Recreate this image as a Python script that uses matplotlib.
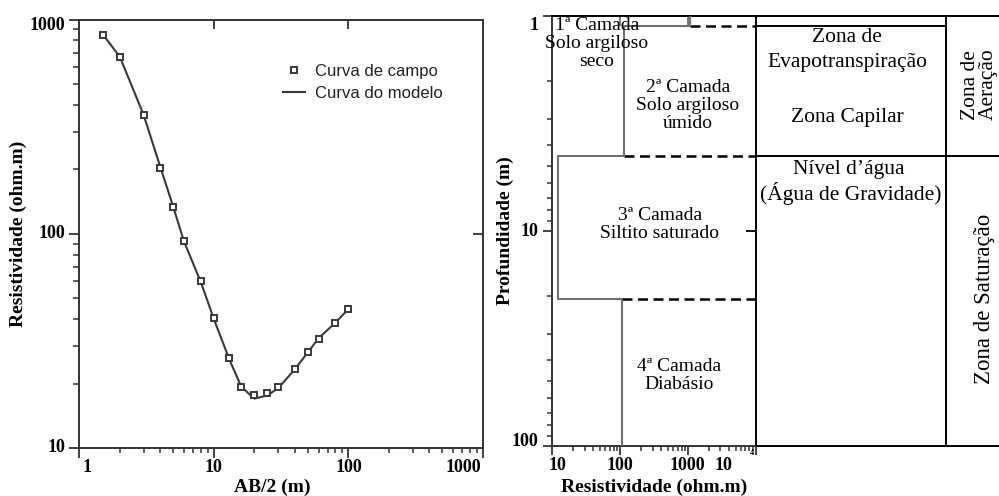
import matplotlib
matplotlib.use("Agg")
import matplotlib.pyplot as plt
from matplotlib.ticker import FixedLocator, LogLocator, NullFormatter

# Field sounding (AB/2 vs apparent resistivity) and fitted model curve
ab2_field = [1.5, 2, 3, 4, 5, 6, 8, 10, 13, 16, 20, 25, 30, 40, 50, 60, 80, 100]
rho_field = [850, 665, 357, 203, 133, 93, 60.5, 40.4, 26.2, 19.2, 17.6, 18.1,
             19.2, 23.3, 28.2, 32.3, 38.5, 44.5]
ab2_model = [1.5, 2, 3, 4, 5, 6, 8, 10, 13, 16, 20, 25, 30, 40, 50, 60, 80, 100]
rho_model = [850, 670, 360, 205, 133, 92, 59.5, 40, 26, 19.3, 17.0, 17.6,
             19.0, 23.3, 28.0, 32.5, 38.5, 44.5]
ab2_ticks = [1, 10, 100, 1000]
ab2_ticklabels = ["1", "10", "100", "1000"]
rho_ticks = [10, 100, 1000]
rho_ticklabels = ["10", "100", "1000"]

# Layered model (depth in m, resistivity in ohm.m)
layer_top = [1.0, 1.11, 4.47, 20.7]
layer_bottom = [1.11, 4.47, 20.7, 100]
layer_rho = [1060, 113, 12.1, 105]
layer_labels = ["1ª Camada\nSolo argiloso\nseco",
                "2ª Camada\nSolo argiloso\númido",
                "3ª Camada\nSiltito saturado",
                "4ª Camada\nDiabásio"]
depth_ticks = [1, 10, 100]
depth_ticklabels = ["1", "10", "100"]
res_ticks = [10, 100, 1000, 1e4]
res_ticklabels = ["10", "100", "1000", "10"]

SERIF = "Liberation Serif"
SANS = "Liberation Sans"
DARK = "#333333"
W, H = 999, 496
PT = 0.72  # points per pixel at dpi 100


def fx(px):
    return px / W


def fy(py):
    return 1 - py / H


def tick_text(ax, axis, vals, labels, offsets, base):
    """Draw tick labels as annotations so each can be nudged like the original."""
    for v, s, (dx, dy) in zip(vals, labels, offsets):
        if axis == "x":
            xy, xyc = (v, 0), ("data", "axes fraction")
            ox, oy, ha, va = dx, base + dy, "center", "center"
        else:
            xy, xyc = (0, v), ("axes fraction", "data")
            ox, oy, ha, va = base + dx, dy, "right", "center"
        ax.annotate(s, xy=xy, xycoords=xyc, xytext=(ox, oy), textcoords="offset pixels",
                    ha=ha, va=va, fontfamily=SERIF, fontweight="bold", fontsize=13,
                    annotation_clip=False)


fig = plt.figure(figsize=(9.99, 4.96), dpi=100)

# ---------------- left panel ----------------
ax = fig.add_axes([fx(79.3), fy(448), fx(483 - 79.3), (448 - 19.5) / H])
ax.set_xscale("log")
ax.set_yscale("log")
ax.set_xlim(1, 1000)
ax.set_ylim(10, 1000)

ax.plot(ab2_model, rho_model, color="#3a3a3a", lw=1.5, label="Curva do modelo", zorder=2)
ax.plot(ab2_field, rho_field, ls="none", marker="s", ms=5, mfc="white", mec="#3a3a3a",
        mew=1.4, label="Curva de campo", zorder=3)

for s in ax.spines.values():
    s.set_color(DARK)
    s.set_linewidth(1.4)

ax.set_xticks(ab2_ticks)
ax.set_yticks(rho_ticks)
ax.xaxis.set_major_formatter(NullFormatter())
ax.yaxis.set_major_formatter(NullFormatter())
ax.xaxis.set_minor_locator(LogLocator(base=10, subs=range(2, 10)))
ax.yaxis.set_minor_locator(LogLocator(base=10, subs=range(2, 10)))
ax.xaxis.set_minor_formatter(NullFormatter())
ax.yaxis.set_minor_formatter(NullFormatter())
ax.tick_params(which="major", direction="out", length=10 * PT, width=1.3, color=DARK,
               top=False, right=False)
ax.tick_params(axis="x", which="minor", direction="out", length=5 * PT, width=1.1,
               color=DARK, top=False)
ax.tick_params(axis="y", which="minor", direction="out", length=6 * PT, width=1.1,
               color=DARK, right=False)
tick_text(ax, "x", ab2_ticks, ab2_ticklabels, [(8, 0), (0, 0), (0, 0), (-20, 0)], -20)
tick_text(ax, "y", rho_ticks, rho_ticklabels, [(0, 0), (0, 0), (0, -6)], -14)

# inward ticks on top and right spines
top = ax.secondary_xaxis("top")
top.set_xticks([10, 100])
top.set_xticklabels([])
top.tick_params(direction="in", length=10 * PT, width=1.3, color=DARK)
top.xaxis.set_minor_locator(FixedLocator([]))
top.spines["top"].set_visible(False)
right = ax.secondary_yaxis("right")
right.set_yticks([100])
right.set_yticklabels([])
right.tick_params(direction="in", length=10 * PT, width=1.3, color=DARK)
right.yaxis.set_minor_locator(FixedLocator([]))
right.spines["right"].set_visible(False)

lkw = dict(fontfamily=SERIF, fontweight="bold", fontsize=14, ha="center", va="center")
fig.text(fx(272), fy(487), "AB/2 (m)", **lkw)
fig.text(fx(18), fy(234), "Resistividade (ohm.m)", rotation=90, **lkw)

h, l = ax.get_legend_handles_labels()
leg = ax.legend(h[::-1], l[::-1], loc="upper left", bbox_to_anchor=(0.505, 0.897),
                frameon=False, prop={"family": SANS, "size": 12}, borderpad=0,
                borderaxespad=0, handlelength=1.3, handletextpad=0.6, labelspacing=0.42)
for t in leg.get_texts():
    t.set_color("#222222")

# ---------------- right panel: layered model ----------------
bx = fig.add_axes([fx(552.3), fy(446), fx(756 - 552.3), (446 - 16) / H])
bx.set_xscale("log")
bx.set_yscale("log")
bx.set_xlim(10, 1e4)
bx.set_ylim(100, 1)

xs, ys = [], []
for rho, t, b in zip(layer_rho, layer_top, layer_bottom):
    xs += [rho, rho]
    ys += [t, b]
bx.plot(xs, ys, color="#707070", lw=1.5, zorder=3)

# dashed interfaces
for i in range(len(layer_rho) - 1):
    x0 = max(layer_rho[i], layer_rho[i + 1])
    bx.plot([x0, 1e4], [layer_bottom[i]] * 2, color="black", lw=1.8,
            ls=(0, (4, 2.2)), zorder=2)

for s in bx.spines.values():
    s.set_color(DARK)
    s.set_linewidth(1.4)
bx.spines["top"].set_color("black")
bx.spines["right"].set_color("black")

bx.set_xticks(res_ticks)
bx.set_yticks(depth_ticks)
bx.xaxis.set_major_formatter(NullFormatter())
bx.yaxis.set_major_formatter(NullFormatter())
bx.xaxis.set_minor_locator(LogLocator(base=10, subs=range(2, 10)))
bx.yaxis.set_minor_locator(LogLocator(base=10, subs=range(2, 10)))
bx.xaxis.set_minor_formatter(NullFormatter())
bx.yaxis.set_minor_formatter(NullFormatter())
bx.tick_params(which="major", direction="out", length=9 * PT, width=1.3, color=DARK)
bx.tick_params(which="minor", direction="out", length=5 * PT, width=1.1, color=DARK)
tick_text(bx, "x", res_ticks, res_ticklabels, [(5, 0), (0, 0), (-1, 0), (-33, 0)], -20)
tick_text(bx, "y", depth_ticks, depth_ticklabels, [(0, -9), (0, 0), (0, 4)], -14)
bx.annotate("4", xy=(1e4, 0), xycoords=("data", "axes fraction"), xytext=(-4, -7),
            textcoords="offset pixels", ha="center", va="center", fontfamily=SERIF,
            fontweight="bold", fontsize=6, annotation_clip=False)

btop = bx.secondary_xaxis("top")
btop.set_xticks([100, 1000])
btop.set_xticklabels([])
btop.tick_params(direction="in", length=10 * PT, width=1.3, color="#707070")
btop.xaxis.set_minor_locator(FixedLocator([]))
btop.spines["top"].set_visible(False)
bright = bx.secondary_yaxis("right")
bright.set_yticks([10])
bright.set_yticklabels([])
bright.tick_params(direction="in", length=10 * PT, width=1.3, color="black")
bright.yaxis.set_minor_locator(FixedLocator([]))
bright.spines["right"].set_visible(False)

fig.text(fx(654), fy(487), "Resistividade (ohm.m)", **lkw)
fig.text(fx(505), fy(231), "Profundidade (m)", rotation=90, **lkw)

# layer annotations (axes-fraction anchors)
layer_pos = [(0.219, 0.937), (0.665, 0.791), (0.528, 0.515), (0.621, 0.165)]
for txt, (px, py) in zip(layer_labels, layer_pos):
    bx.text(px, py, txt, transform=bx.transAxes, ha="center", va="center",
            fontfamily=SERIF, fontsize=14, linespacing=1.08)

# ---------------- right panel: hydro-zones table ----------------
tx = fig.add_axes([fx(756), fy(446), 1 - fx(756), (446 - 16) / H])
tx.set_yscale("log")
tx.set_ylim(100, 1)
tx.set_xlim(0, 1)
tx.axis("off")
col = (946 - 756) / (W - 756)
zone_depth = [layer_bottom[0], layer_bottom[1]]
kw = dict(color="black", lw=1.4, solid_capstyle="butt", clip_on=False)
tx.plot([0, 1], [1, 1], **kw)
tx.plot([0, 1], [100, 100], **kw)
tx.plot([0, col], [zone_depth[0]] * 2, **kw)
tx.plot([0, 1], [zone_depth[1]] * 2, **kw)
tx.plot([col, col], [1, 100], **kw)

tkw = dict(transform=tx.transAxes, ha="center", va="center", fontfamily=SERIF, fontsize=15.5)
tx.text(0.375, 0.949, "Zona de", **tkw)
tx.text(0.375, 0.893, "Evapotranspiração", **tkw)
tx.text(0.375, 0.765, "Zona Capilar", **tkw)
tx.text(0.38, 0.642, "Nível d’água", **tkw)
tx.text(0.39, 0.588, "(Água de Gravidade)", **tkw)
tx.text(0.92, 0.842, "Zona de\nAeração", rotation=90, multialignment="left",
        linespacing=0.95, **tkw)
tkw["fontsize"] = 16.5
tx.text(0.942, 0.342, "Zona de Saturação", rotation=90, **tkw)

fig.savefig("out.png", dpi=100)
